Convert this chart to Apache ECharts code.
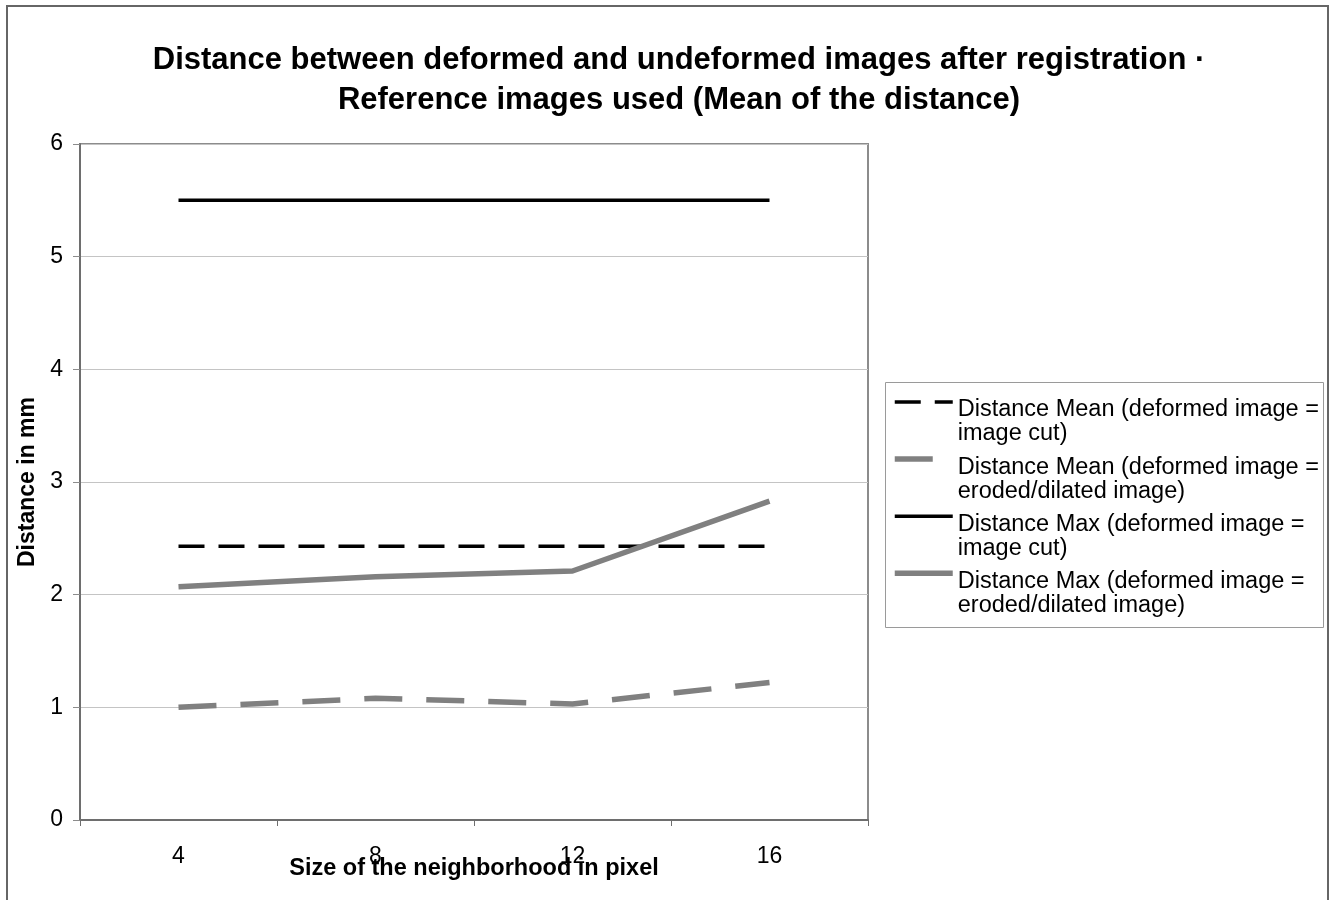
<!DOCTYPE html>
<html>
<head>
<meta charset="utf-8">
<title>Distance between deformed and undeformed images after registration</title>
<script src="https://cdn.jsdelivr.net/npm/echarts@6/dist/echarts.min.js"></script>
<style>
  html, body { margin: 0; padding: 0; background: #fff; }
  #chart { width: 1333px; height: 900px; }
</style>
</head>
<body>
<div id="chart"></div>
<script>
// Neighborhood sizes (pixels) on the category axis
const categories = ['4', '8', '12', '16'];

// Distances in mm for each neighborhood size
const meanCut = [2.43, 2.43, 2.43, 2.43];
const meanEroded = [1.00, 1.08, 1.03, 1.22];
const maxCut = [5.5, 5.5, 5.5, 5.5];
const maxEroded = [2.07, 2.16, 2.21, 2.83];

// Series names shown in the legend
const seriesNames = [
  'Distance Mean (deformed image =\nimage cut)',
  'Distance Mean (deformed image =\neroded/dilated image)',
  'Distance Max (deformed image =\nimage cut)',
  'Distance Max (deformed image =\neroded/dilated image)'
];

// Value axis range
const yMin = 0;
const yMax = 6;
const yStep = 1;

const FONT = 'Arial, "Liberation Sans", Helvetica, sans-serif';

const chart = echarts.init(document.getElementById('chart'), null, { renderer: 'canvas' });

const lineSeries = (name, data, color, width, dash) => ({
  name: name,
  type: 'line',
  data: data,
  symbol: 'none',
  showSymbol: false,
  smooth: false,
  lineStyle: { color: color, width: width, type: dash || 'solid', cap: 'butt' },
  itemStyle: { color: color },
  emphasis: { disabled: true }
});

// Legend label: a spacer line first so the sample line sits beside the first text line
const legendLabel = (name) =>
  '{s| }\n' + name.split('\n').map((l) => '{t|' + l + '}').join('\n');

chart.setOption({
  animation: false,
  backgroundColor: '#ffffff',
  textStyle: { fontFamily: FONT },
  title: {
    text: 'Distance between deformed and undeformed images after registration ·\nReference images used (Mean of the distance)',
    left: 674,
    top: 35,
    textAlign: 'center',
    textStyle: {
      fontFamily: FONT,
      fontSize: 31,
      fontWeight: 'bold',
      color: '#000',
      lineHeight: 40
    }
  },
  graphic: [
    {
      type: 'rect',
      silent: true,
      z: -10,
      shape: { x: 7, y: 6, width: 1321, height: 910 },
      style: { fill: 'none', stroke: '#666', lineWidth: 2 }
    },
    {
      type: 'rect',
      silent: true,
      z: -10,
      shape: { x: 885.5, y: 382.5, width: 438, height: 245 },
      style: { fill: '#fff', stroke: '#9a9a9a', lineWidth: 1 }
    }
  ],
  legend: {
    orient: 'vertical',
    left: 892,
    top: 373,
    padding: 0,
    itemWidth: 58,
    itemHeight: 14,
    itemGap: -15.9,
    selectedMode: false,
    data: seriesNames,
    formatter: legendLabel,
    lineStyle: { width: 'inherit' },
    itemStyle: { opacity: 0, borderWidth: 0 },
    textStyle: {
      fontFamily: FONT,
      color: '#000',
      rich: {
        s: { fontSize: 10, lineHeight: 40 },
        t: { fontFamily: FONT, fontSize: 23.5, lineHeight: 24, color: '#000' }
      }
    }
  },
  grid: {
    left: 80,
    right: 465,
    top: 144,
    bottom: 80,
    show: true,
    borderColor: '#8c8c8c',
    borderWidth: 2,
    containLabel: false
  },
  xAxis: {
    type: 'category',
    data: categories,
    boundaryGap: true,
    name: 'Size of the neighborhood in pixel',
    nameLocation: 'middle',
    nameGap: 37,
    nameMoveOverlap: false,
    nameTextStyle: { fontFamily: FONT, fontSize: 23.5, fontWeight: 'bold', color: '#000' },
    axisLine: { show: true, lineStyle: { color: '#6e6e6e', width: 2 } },
    axisTick: { show: true, alignWithLabel: false, inside: false, length: 6, lineStyle: { color: '#6e6e6e', width: 1 } },
    axisLabel: { fontFamily: FONT, fontSize: 23, color: '#000', margin: 25 },
    splitLine: { show: false }
  },
  yAxis: {
    type: 'value',
    min: yMin,
    max: yMax,
    interval: yStep,
    name: 'Distance in mm',
    nameLocation: 'middle',
    nameGap: 41,
    nameMoveOverlap: false,
    nameTextStyle: { fontFamily: FONT, fontSize: 23, fontWeight: 'bold', color: '#000' },
    axisLine: { show: true, lineStyle: { color: '#6e6e6e', width: 2 } },
    axisTick: { show: true, inside: false, length: 7, lineStyle: { color: '#8c8c8c', width: 1 } },
    axisLabel: { fontFamily: FONT, fontSize: 23, color: '#000', margin: 17 },
    splitLine: { show: true, lineStyle: { color: '#c4c4c4', width: 1 } }
  },
  series: [
    lineSeries(seriesNames[0], meanCut, '#000000', 3.5, [26, 14]),
    lineSeries(seriesNames[1], meanEroded, '#808080', 5.5, [38, 24]),
    lineSeries(seriesNames[2], maxCut, '#000000', 3.5),
    lineSeries(seriesNames[3], maxEroded, '#808080', 5.5)
  ]
});
</script>
</body>
</html>
